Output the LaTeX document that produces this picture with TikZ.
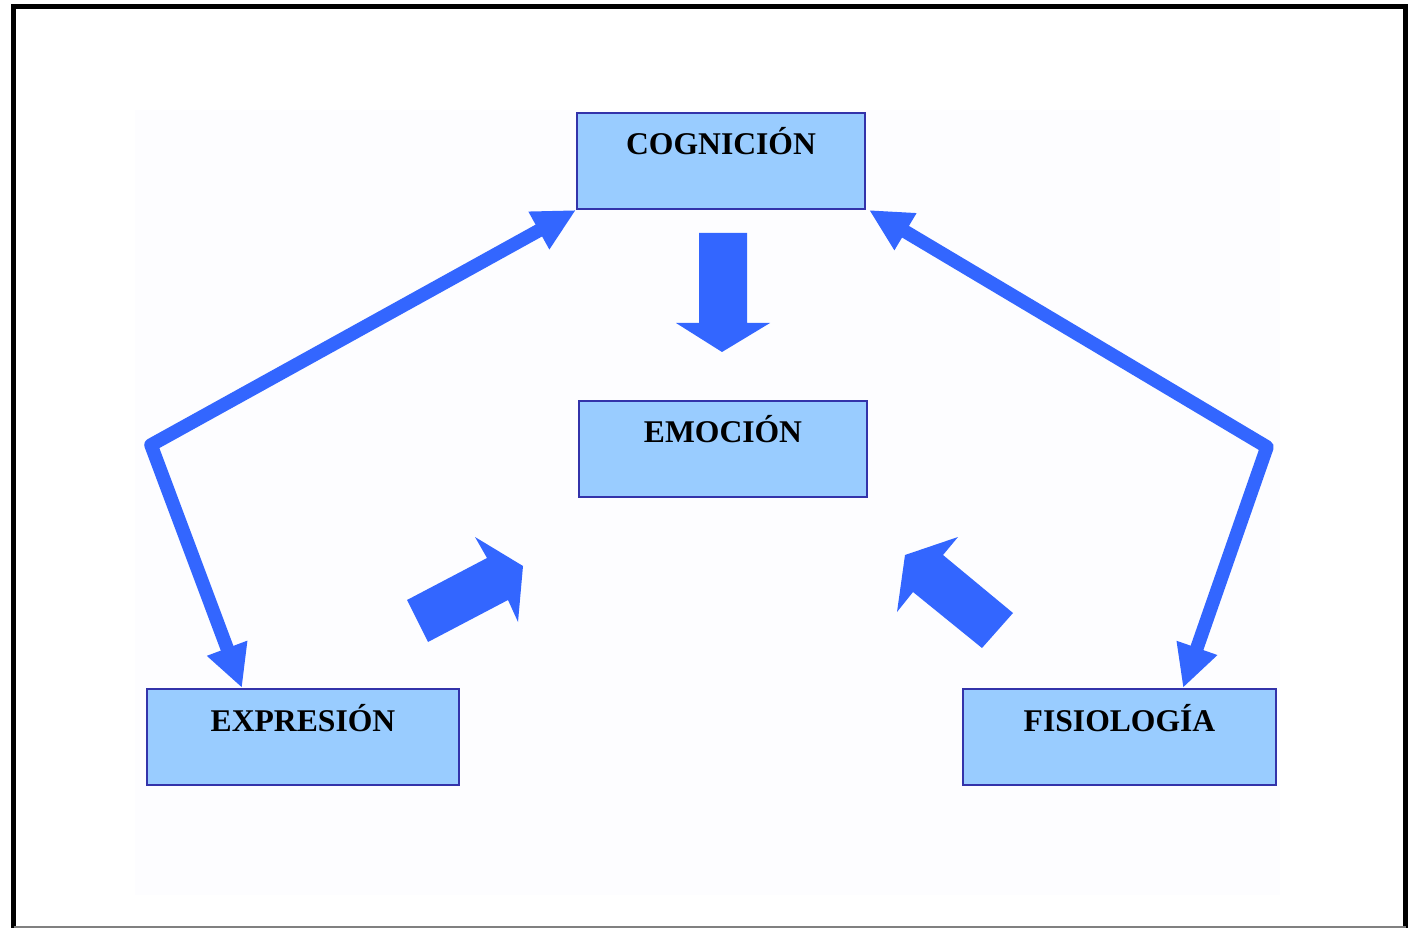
\documentclass[tikz,border=0pt]{standalone}
\usepackage{fontspec}
\setmainfont{Liberation Serif}
\usetikzlibrary{arrows.meta,positioning}
\definecolor{boxfill}{RGB}{153,204,255}
\definecolor{boxline}{RGB}{51,51,170}
\definecolor{arrowblue}{RGB}{51,102,255}
\definecolor{paper}{RGB}{253,253,255}

\begin{document}
\begin{tikzpicture}[x=0.02cm,y=-0.02cm,
  concept/.style={draw=boxline,fill=boxfill,line width=0.04cm,inner xsep=0pt,inner ysep=0pt,
    minimum width=5.76cm,minimum height=1.92cm,text height=0.84cm,text depth=1.08cm,
    font=\fontsize{18}{20}\selectfont\bfseries},
  link/.style={draw=arrowblue,line width=0.27cm,line join=round,
    {Triangle[length=0.85cm,width=0.8cm]}-{Triangle[length=0.85cm,width=0.8cm]}},
  block/.style={fill=arrowblue}]
\useasboundingbox (0,0) rectangle (1408,928);
\fill[paper] (135,110) rectangle (1280,895);
% frame
\draw[line width=0.1cm] (13.5,928) -- (13.5,6.5) -- (1405.5,6.5) -- (1405.5,928);
\draw[gray,line width=0.04cm] (13.5,927) -- (1405.5,927);

\node[concept] (cog) at (721,161) {COGNICIÓN};
\node[concept,below=3.8cm of cog,xshift=0.04cm] (emo) {EMOCIÓN};
\node[concept,minimum width=6.24cm] (exp) at (303,737) {EXPRESIÓN};
\node[concept,minimum width=6.26cm] (fis) at (1119.5,737) {FISIOLOGÍA};

\coordinate (bendL) at (151,445);
\coordinate (bendR) at (1267,447);
\draw[link] (cog.south west) -- (bendL) -- ([xshift=1.92cm]exp.north west);
\draw[link] ([xshift=0.06cm]cog.south east) -- (bendR) -- ([xshift=-1.88cm]fis.north east);

% block arrows
\fill[block] (699,233) -- (747,233) -- (747,323) -- (770,323) -- (722,352) -- (676,323) -- (699,323) -- cycle;
\fill[block] (407,600) -- (487,558) -- (475,537) -- (523,566) -- (518,622) -- (508,600) -- (428,642) -- cycle;
\fill[block] (905,555) -- (958,537) -- (943,555) -- (1013,613) -- (982,648) -- (913,592) -- (897,612) -- cycle;
\end{tikzpicture}
\end{document}
